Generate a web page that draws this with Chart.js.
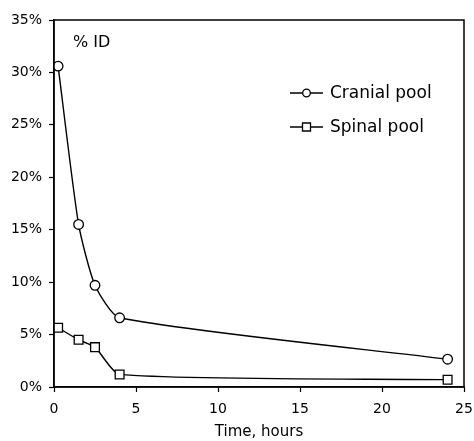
<!DOCTYPE html>
<html>
<head>
<meta charset="utf-8">
<script src="https://cdn.jsdelivr.net/npm/chart.js@4/dist/chart.umd.min.js"></script>
<style>
html,body{margin:0;padding:0;background:#fff;}
#wrap{width:474px;height:441px;position:relative;}
</style>
</head>
<body>
<div id="wrap"><canvas id="c" width="474" height="441"></canvas></div>
<script>
const hours = [0.25, 1.5, 2.5, 4, 24];
const cranialPool = [30.6, 15.5, 9.7, 6.6, 2.65];
const spinalPool = [5.65, 4.5, 3.8, 1.2, 0.7];
const seriesNames = ['Cranial pool', 'Spinal pool'];
const xTickValues = [0, 5, 10, 15, 20, 25];
const yTickValues = [0, 5, 10, 15, 20, 25, 30, 35];
const yAxisLabel = '% ID';
const xAxisTitle = 'Time, hours';

const FONT = '"DejaVu Sans", Verdana, sans-serif';
Chart.defaults.font.family = FONT;
Chart.defaults.font.size = 14;
Chart.defaults.color = '#000';

function pts(ys){ return hours.map((h,i)=>({x:h,y:ys[i]})); }

const framePlugin = {
  id: 'frame',
  afterDraw(chart){
    const {ctx, chartArea:a} = chart;
    ctx.save();
    ctx.strokeStyle = '#000';
    ctx.lineWidth = 1.5;
    ctx.strokeRect(a.left, a.top, a.right - a.left, a.bottom - a.top);
    ctx.fillStyle = '#000';
    ctx.textBaseline = 'middle';
    ctx.textAlign = 'left';
    ctx.font = '16px ' + FONT;
    ctx.fillText(yAxisLabel, a.left + 19, a.top + 23);
    const items = [
      {label: chart.data.datasets[0].label, style: 'circle'},
      {label: chart.data.datasets[1].label, style: 'rect'}
    ];
    ctx.font = '17px ' + FONT;
    const lx = a.left + 236, ly = a.top + 73, gap = 34;
    items.forEach((it, i) => {
      const y = ly + i*gap;
      ctx.beginPath();
      ctx.lineWidth = 1.3;
      ctx.moveTo(lx, y); ctx.lineTo(lx + 33, y);
      ctx.stroke();
      const cx = lx + 16.5;
      ctx.fillStyle = '#fff';
      ctx.beginPath();
      if (it.style === 'circle') {
        ctx.arc(cx, y, 3.8, 0, Math.PI*2);
      } else {
        ctx.rect(cx - 4, y - 4, 8, 8);
      }
      ctx.fill(); ctx.stroke();
      ctx.fillStyle = '#000';
      ctx.fillText(it.label, lx + 40, y + 1);
    });
    ctx.restore();
  }
};

const common = {
  showLine: true,
  borderColor: '#000',
  borderWidth: 1.4,
  tension: 0.2,
  pointBackgroundColor: '#fff',
  pointBorderColor: '#000',
  pointBorderWidth: 1.3
};

new Chart(document.getElementById('c'), {
  type: 'scatter',
  data: {
    datasets: [
      Object.assign({label: seriesNames[0], data: pts(cranialPool), pointStyle: 'circle', pointRadius: 4.8}, common),
      Object.assign({label: seriesNames[1], data: pts(spinalPool), pointStyle: 'rect', pointRadius: 6.2}, common)
    ]
  },
  options: {
    responsive: false,
    animation: false,
    layout: {padding: {left: 0, top: 20, right: 10, bottom: 0}},
    plugins: {legend: {display: false}, tooltip: {enabled: false}},
    scales: {
      x: {
        type: 'linear',
        min: 0, max: 25,
        afterBuildTicks(s){ s.ticks = xTickValues.map(v=>({value:v})); },
        afterFit(s){ s.height = 54; s.paddingRight = 0; s.paddingLeft = 0; },
        grid: {drawOnChartArea: false, tickLength: 5, color: '#000', tickWidth: 1.2},
        border: {color: '#000', width: 1.5},
        ticks: {padding: 9, maxRotation: 0, font: {size: 14}},
        title: {display: true, text: xAxisTitle, font: {size: 15}, padding: {top: 3, bottom: 0}}
      },
      y: {
        type: 'linear',
        min: 0, max: 35,
        afterBuildTicks(s){ s.ticks = yTickValues.map(v=>({value:v})); },
        afterFit(s){ s.width = 54; },
        grid: {drawOnChartArea: false, tickLength: 5, color: '#000', tickWidth: 1.2},
        border: {color: '#000', width: 1.5},
        ticks: {padding: 7, font: {size: 14}, callback: v => v + '%'}
      }
    }
  },
  plugins: [framePlugin]
});
</script>
</body>
</html>
